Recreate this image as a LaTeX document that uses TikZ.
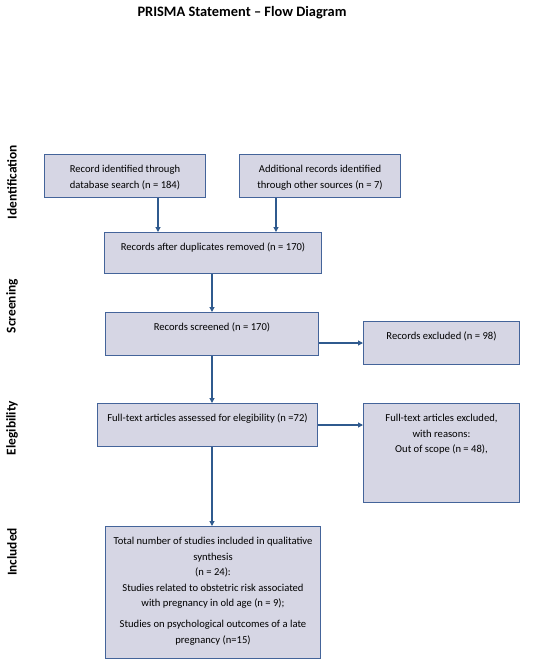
\documentclass[tikz,border=0pt]{standalone}
\usepackage{fontspec}
\setmainfont{Carlito}
\usetikzlibrary{arrows.meta}
\definecolor{boxfill}{HTML}{D6D6E4}
\definecolor{boxline}{HTML}{44649A}
\definecolor{arrcol}{HTML}{2F5A8E}
\newcommand{\bxtext}[3]{\parbox[t][#2][t]{#1}{\centering\vspace*{10pt}\rule{0pt}{8pt}#3\par}}
\tikzset{
  box/.style={draw=boxline, fill=boxfill, line width=1pt, inner sep=0pt, anchor=north west,
    font=\fontsize{10.6}{15.5}\selectfont},
  side/.style={rotate=90, font=\bfseries\fontsize{13.4}{14}\selectfont},
  arr/.style={draw=arrcol, line width=1.1pt, -{Triangle[width=5pt,length=5pt]}}
}
\begin{document}
\begin{tikzpicture}[x=1pt,y=-1pt]
\useasboundingbox (0,0) rectangle (550,665);
\node[font=\bfseries\fontsize{14.4}{16}\selectfont] (title) at (242,13) {PRISMA Statement – Flow Diagram};
\node[side] (l1) at (12,182) {Identification};
\node[side] (l2) at (12,306) {Screening};
\node[side] (l3) at (12,428) {Elegibility};
\node[side] (l4) at (12,552) {Included};

\node[box] (b1) at (44,154) {\bxtext{161pt}{43pt}{Record identified through\\database search (n = 184)}};
\node[box] (b2) at (239,154) {\bxtext{161pt}{43pt}{Additional records identified\\through other sources (n = 7)}};
\node[box] (b3) at (104,232) {\bxtext{217pt}{41pt}{Records after duplicates removed (n = 170)}};
\node[box] (b4) at (105,312) {\bxtext{213pt}{43pt}{Records screened (n = 170)}};
\node[box] (b5) at (363,321) {\bxtext{156pt}{43pt}{Records excluded (n = 98)}};
\node[box] (b6) at (97,403) {\bxtext{220pt}{43pt}{Full-text articles assessed for elegibility (n =72)}};
\node[box] (b7) at (363,403) {\bxtext{156pt}{99pt}{Full-text articles excluded,\\with reasons:\\Out of scope (n = 48),}};
\node[box] (b8) at (105,526) {\bxtext{215pt}{132pt}{Total number of studies included in qualitative\\synthesis\\(n = 24):\\Studies related to obstetric risk associated\\with pregnancy in old age (n = 9);\\[5.5pt]Studies on psychological outcomes of a late\\pregnancy (n=15)}};

\coordinate (c1) at (158,0);
\coordinate (c2) at (276,0);
\coordinate (c3) at (212,0);
\coordinate (r1) at (0,343);
\coordinate (r2) at (0,425);
\draw[arr] (b1.south -| c1) -- (b3.north -| c1);
\draw[arr] (b2.south -| c2) -- (b3.north -| c2);
\draw[arr] (b3.south -| c3) -- (b4.north -| c3);
\draw[arr] (b4.south -| c3) -- (b6.north -| c3);
\draw[arr] (b6.south -| c3) -- (b8.north -| c3);
\draw[arr] (b4.east |- r1) -- (b5.west |- r1);
\draw[arr] (b6.east |- r2) -- (b7.west |- r2);
\end{tikzpicture}
\end{document}
